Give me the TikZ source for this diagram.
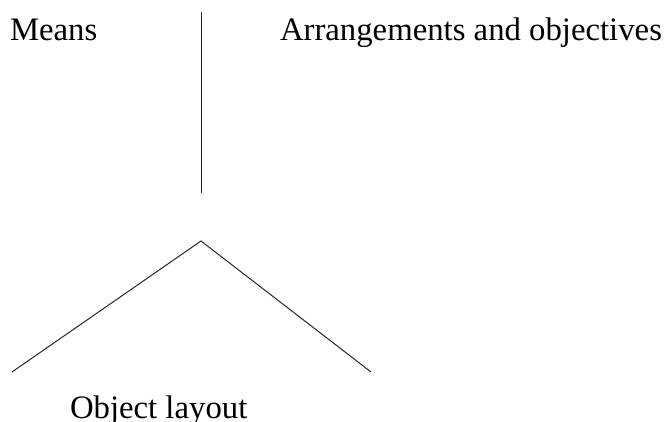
\documentclass[tikz,border=0pt]{standalone}
\usepackage{fontspec}
\setmainfont{Liberation Serif}
\begin{document}
\begin{tikzpicture}[x=1pt,y=-1pt,
  label text/.style={anchor=base west, inner sep=0pt, outer sep=0pt,
    font=\fontsize{32.75}{36}\selectfont},
  rule/.style={draw=black!85, line width=1pt}]
\useasboundingbox (0,0) rectangle (665,422);
% headings
\node[label text] (means) at (10,41) {Means};
\node[label text] (arr) at (280,41) {Arrangements and objectives};
\node[label text] (obj) at (70,419) {Object layout};
% vertical divider
\coordinate (vtop) at (201,12);
\coordinate (vbot) at (201,193);
\draw[rule] (vtop) -- (vbot);
% inverted V
\coordinate (apex) at (201,241);
\coordinate (lft) at (12,372);
\coordinate (rgt) at (371,372);
\draw[rule] (lft) -- (apex) -- (rgt);
\end{tikzpicture}
\end{document}
